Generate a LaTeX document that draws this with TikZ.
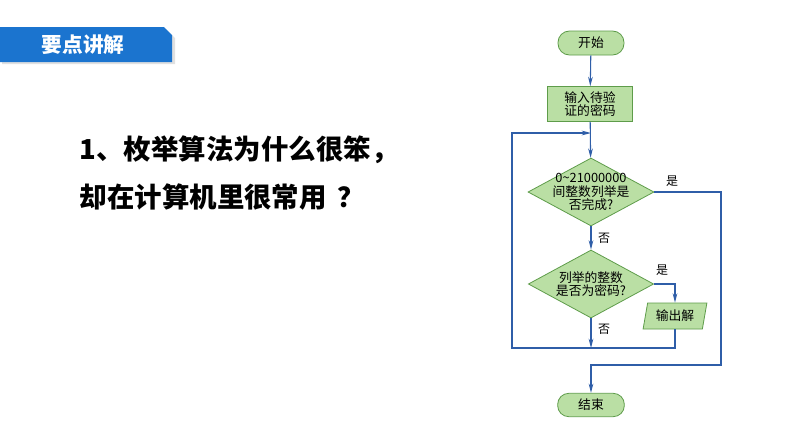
\documentclass[tikz,border=0pt]{standalone}
\usepackage{fontspec}
\setmainfont{Noto Sans CJK SC}
\usetikzlibrary{arrows.meta,shapes.geometric}
\definecolor{bannerblue}{HTML}{1B74CF}
\definecolor{flowline}{HTML}{2F5EA8}
\definecolor{boxfill}{HTML}{BADFA4}
\definecolor{boxline}{HTML}{5E9C4A}
\begin{document}
\begin{tikzpicture}[x=0.75pt,y=-0.75pt,
  flowbox/.style={draw=boxline,fill=boxfill,line width=0.6pt},
  flowtext/.style={font=\fontsize{9.6}{10.2}\selectfont,align=center,inner sep=0pt},
  flowarrow/.style={draw=flowline,line width=0.8pt,-{Stealth[length=7pt,width=3.5pt]}},
  ynlabel/.style={font=\fontsize{9}{10}\selectfont,inner sep=0pt}]
  \useasboundingbox[fill=white] (0,0) rectangle (794,447);
  % banner
  \fill[black!12] (2,29) -- (166,29) -- (175,38) -- (175,64) -- (2,64) -- cycle;
  \fill[bannerblue] (0,27) -- (164,27) -- (172,35) -- (172,62) -- (0,62) -- cycle;
  \node[white,font=\bfseries\fontsize{15.5}{18}\selectfont] (banner) at (83,45) {要点讲解};
  % question
  \node[anchor=west,font=\bfseries\fontsize{20.6}{24}\selectfont] (q1) at (75,150) {1、枚举算法为什么很笨，};
  \node[anchor=west,font=\bfseries\fontsize{20.6}{24}\selectfont] (q2) at (75,197) {却在计算机里很常用\hspace{0.4em}？};
  % flowchart
  \node[flowbox,flowtext,rounded corners=8.6pt,minimum width=49.5pt,minimum height=18pt] (start) at (591,43) {开始};
  \node[flowbox,flowtext,minimum width=63.75pt,minimum height=26.25pt] (input) at (590,104) {输入待验\\证的密码};
  \node[flowbox,diamond,minimum width=94.5pt,minimum height=51pt,inner sep=0pt] (d1) at (591,192) {};
  \node[flowtext] (d1text) at (d1.center) {0\textasciitilde21000000\\间整数列举是\\否完成?};
  \node[flowbox,diamond,minimum width=94pt,minimum height=51pt,inner sep=0pt] (d2) at (591,284) {};
  \node[flowtext] (d2text) at (d2.center) {列举的整数\\是否为密码?};
  \node[flowbox,flowtext,trapezium,trapezium left angle=75,trapezium right angle=105,
    trapezium stretches,minimum width=48pt,minimum height=19.5pt] (out) at (675,316) {输出解};
  \node[flowbox,flowtext,rounded corners=8.3pt,minimum width=50pt,minimum height=17.5pt] (end) at (591,405) {结束};
  \coordinate (loopcorner) at (512,348);
  \coordinate (loopin) at (591,133);
  \coordinate (exitbend) at (721,365);
  % connectors
  \draw[flowarrow] (start) -- (input);
  \draw[flowarrow] (input) -- (d1);
  \draw[flowarrow] (d1) -- (d2);
  \draw[flowarrow] (d1.east) -| (exitbend) -| (end.north);
  \draw[flowarrow] (d2.east) -| (out.north);
  \draw[flowarrow] (d2.south) -- (d2.south |- loopcorner);
  \draw[flowarrow] (out.south) |- (loopcorner) |- (loopin);
  \node[ynlabel] (yes1) at (672,181) {是};
  \node[ynlabel] (no1) at (604,238) {否};
  \node[ynlabel] (yes2) at (662,270) {是};
  \node[ynlabel] (no2) at (604,329) {否};
\end{tikzpicture}
\end{document}
